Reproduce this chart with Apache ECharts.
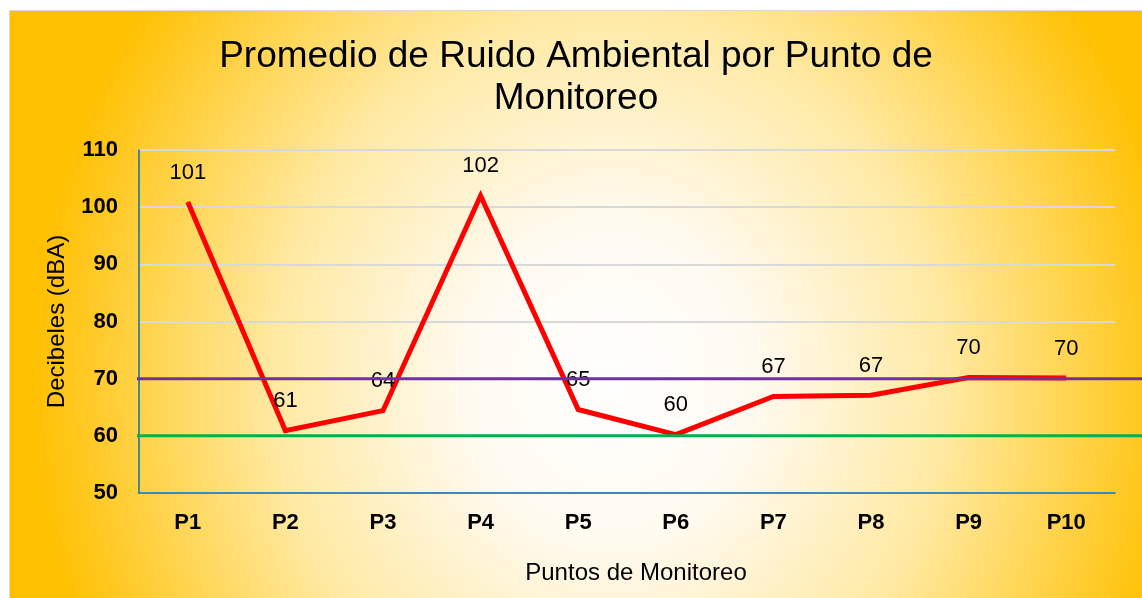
<!DOCTYPE html>
<html>
<head>
<meta charset="utf-8">
<script src="https://cdn.jsdelivr.net/npm/echarts@6/dist/echarts.min.js"></script>
<style>
  html, body { margin: 0; padding: 0; background: #fff; width: 1142px; height: 598px; overflow: hidden; }
  .frame {
    position: absolute; left: 9px; top: 10px; width: 1133px; height: 588px;
    border-left: 1px solid #d9d9d9; border-top: 1px solid #d9d9d9;
  }
  #main {
    position: absolute; left: 10px; top: 11px; width: 1132px; height: 587px;
    background: radial-gradient(ellipse 580px 640px at 600px 370px,
      #ffffff 0%, #fffaf0 25%, #ffe9a2 58%, #ffc000 100%);
  }
</style>
</head>
<body>
<div class="frame"></div>
<div id="main"></div>
<script>
// puntos de monitoreo y promedios (dBA)
var puntos = ['P1', 'P2', 'P3', 'P4', 'P5', 'P6', 'P7', 'P8', 'P9', 'P10'];
var ruido = [100.9, 60.9, 64.4, 102, 64.6, 60.2, 66.9, 67.1, 70.2, 70.1];
var etiquetas = ['101', '61', '64', '102', '65', '60', '67', '67', '70', '70'];
// limites de referencia
var limiteAlto = 70;
var limiteBajo = 60;
var yTicks = [50, 60, 70, 80, 90, 100, 110];

var fuente = '"Liberation Sans", Arial, sans-serif';
var myChart = echarts.init(document.getElementById('main'), null, { renderer: 'canvas' });

var option = {
  backgroundColor: 'transparent',
  animation: false,
  title: {
    text: 'Promedio de Ruido Ambiental por Punto de\nMonitoreo',
    left: 'center',
    top: 20,
    textStyle: { fontFamily: fuente, fontSize: 37, fontWeight: 'normal', color: '#000', lineHeight: 42 }
  },
  grid: [
    { left: 129, top: 139, width: 976, height: 343 },
    { left: 127, top: 139, right: 0, height: 343 }
  ],
  xAxis: [
    {
      type: 'category',
      gridIndex: 0,
      data: puntos,
      name: 'Puntos de Monitoreo',
      nameLocation: 'middle',
      nameGap: 68,
      nameTextStyle: { fontFamily: fuente, fontSize: 24, color: '#000', padding: [0, 0, 0, 18] },
      axisLine: { lineStyle: { color: '#0070C0', width: 1.5 } },
      axisTick: { show: false },
      axisLabel: { fontFamily: fuente, fontSize: 22, fontWeight: 'bold', color: '#000', margin: 19 }
    },
    { type: 'value', gridIndex: 1, min: 0, max: 1, show: false }
  ],
  yAxis: [
    {
      type: 'value',
      gridIndex: 0,
      min: yTicks[0],
      max: yTicks[yTicks.length - 1],
      interval: 10,
      name: 'Decibeles (dBA)',
      nameLocation: 'middle',
      nameGap: 70,
      nameTextStyle: { fontFamily: fuente, fontSize: 24, color: '#000' },
      axisLine: { show: true, lineStyle: { color: '#0070C0', width: 1.5 } },
      axisTick: { show: false },
      axisLabel: { fontFamily: fuente, fontSize: 22, fontWeight: 'bold', color: '#000', margin: 21 },
      splitLine: { lineStyle: { color: '#d9d9d9', width: 2 } }
    },
    { type: 'value', gridIndex: 1, min: yTicks[0], max: yTicks[yTicks.length - 1], show: false }
  ],
  series: [
    {
      name: 'Ruido',
      type: 'line',
      xAxisIndex: 0,
      yAxisIndex: 0,
      data: ruido,
      z: 2,
      symbol: 'circle',
      symbolSize: 1,
      itemStyle: { color: '#ff0000' },
      lineStyle: { color: '#ff0000', width: 5, join: 'miter' },
      label: {
        show: true,
        position: 'top',
        distance: 18,
        fontFamily: fuente,
        fontSize: 22,
        color: '#000',
        formatter: function (p) { return etiquetas[p.dataIndex]; }
      }
    },
    {
      name: 'Limite 70',
      type: 'line',
      xAxisIndex: 1,
      yAxisIndex: 1,
      z: 5,
      symbol: 'none',
      data: [[0, limiteAlto], [1, limiteAlto]],
      lineStyle: { color: '#7030A0', width: 3 }
    },
    {
      name: 'Limite 60',
      type: 'line',
      xAxisIndex: 1,
      yAxisIndex: 1,
      z: 5,
      symbol: 'none',
      data: [[0, limiteBajo], [1, limiteBajo]],
      lineStyle: { color: '#00B050', width: 3 }
    }
  ]
};

option && myChart.setOption(option);
</script>
</body>
</html>
